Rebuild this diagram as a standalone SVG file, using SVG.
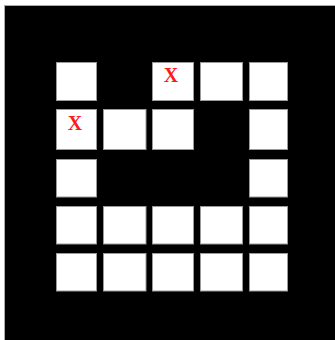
<svg xmlns="http://www.w3.org/2000/svg" width="335" height="340" viewBox="0 0 335 340">
<style>
.c{fill:#fff;stroke:#9a9a9a;stroke-width:1}
.x{fill:#ff1a1a;font-family:"Liberation Serif",serif;font-size:20px;font-weight:bold;text-anchor:middle}
</style>
<rect x="0" y="0" width="335" height="340" fill="#fff"/>
<rect x="4.5" y="5.5" width="332" height="336" fill="#000" stroke="#aaa" stroke-width="1"/>
<g id="r1c1"><rect class="c" x="56.5" y="62.5" width="40" height="38"/></g>
<g id="r1c3"><rect class="c" x="152.5" y="62.5" width="41" height="38"/><text class="x" x="171" y="82">X</text></g>
<g id="r1c4"><rect class="c" x="200.5" y="62.5" width="42" height="38"/></g>
<g id="r1c5"><rect class="c" x="249.5" y="62.5" width="38" height="38"/></g>
<g id="r2c1"><rect class="c" x="56.5" y="109.5" width="40" height="40"/><text class="x" x="75" y="130">X</text></g>
<g id="r2c2"><rect class="c" x="103.5" y="109.5" width="42.5" height="40"/></g>
<g id="r2c3"><rect class="c" x="152.5" y="109.5" width="41" height="40"/></g>
<g id="r2c5"><rect class="c" x="249.5" y="109.5" width="38" height="40"/></g>
<g id="r3c1"><rect class="c" x="56.5" y="159.5" width="40" height="37.5"/></g>
<g id="r3c5"><rect class="c" x="249.5" y="159.5" width="38" height="37.5"/></g>
<g id="r4c1"><rect class="c" x="56.5" y="206.5" width="40" height="37.5"/></g>
<g id="r4c2"><rect class="c" x="103.5" y="206.5" width="42.5" height="37.5"/></g>
<g id="r4c3"><rect class="c" x="152.5" y="206.5" width="41" height="37.5"/></g>
<g id="r4c4"><rect class="c" x="200.5" y="206.5" width="42" height="37.5"/></g>
<g id="r4c5"><rect class="c" x="249.5" y="206.5" width="38" height="37.5"/></g>
<g id="r5c1"><rect class="c" x="56.5" y="253.5" width="40" height="37.5"/></g>
<g id="r5c2"><rect class="c" x="103.5" y="253.5" width="42.5" height="37.5"/></g>
<g id="r5c3"><rect class="c" x="152.5" y="253.5" width="41" height="37.5"/></g>
<g id="r5c4"><rect class="c" x="200.5" y="253.5" width="42" height="37.5"/></g>
<g id="r5c5"><rect class="c" x="249.5" y="253.5" width="38" height="37.5"/></g>
<g id="connectors"/>
</svg>
